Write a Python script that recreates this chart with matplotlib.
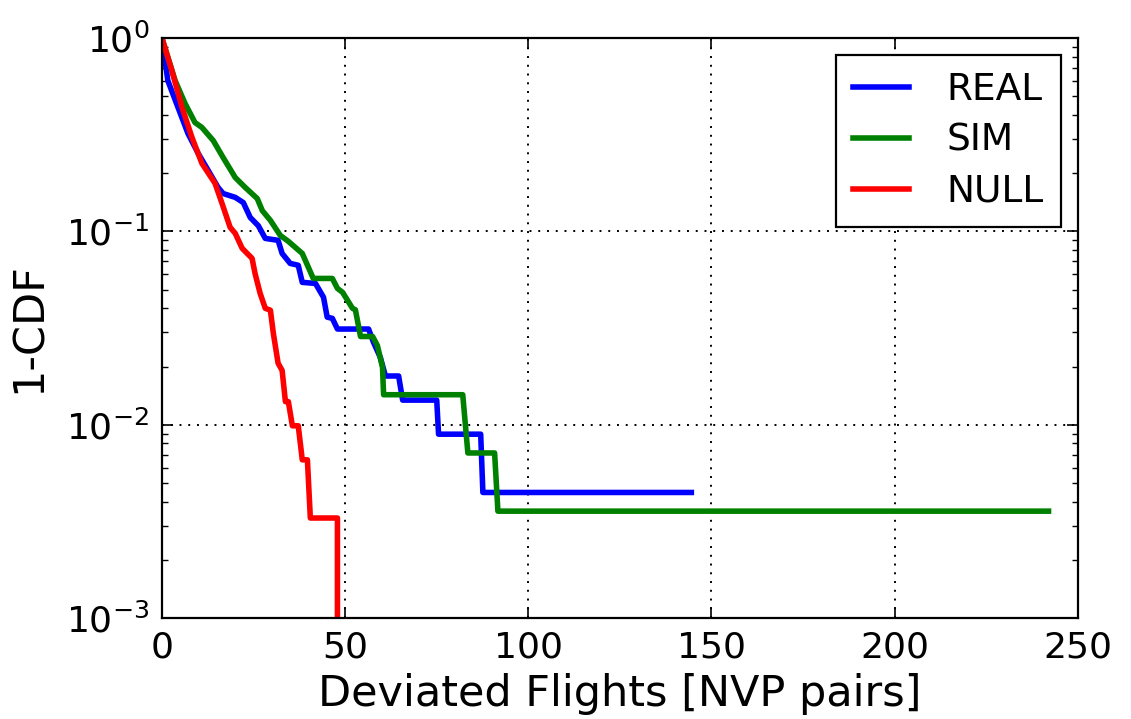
import numpy as np
import matplotlib
matplotlib.use("Agg")
import matplotlib.pyplot as plt

plt.rcParams["font.family"] = "DejaVu Sans"
plt.rcParams["mathtext.default"] = "regular"
plt.rcParams["xtick.direction"] = "in"
plt.rcParams["ytick.direction"] = "in"
plt.rcParams["xtick.top"] = True
plt.rcParams["ytick.right"] = True

# 1-CDF curves
real_x = [0, 1.6, 4.4, 7.1, 9.9, 12.6, 15.3, 16.7, 20.0, 22.2, 24.1, 26.3, 28.2,
          31.7, 32.8, 35.0, 37.2, 38.3, 41.9, 44.1, 45.1, 46.5, 47.9, 56.4, 57.7,
          59.6, 61.0, 64.6, 65.7, 75.0, 75.5, 87.0, 87.6, 144.5]
real_y = [1.0, 0.603, 0.437, 0.321, 0.253, 0.207, 0.169, 0.157, 0.150, 0.141, 0.118,
          0.107, 0.092, 0.0899, 0.0769, 0.0683, 0.0668, 0.0545, 0.0538, 0.0456,
          0.0360, 0.0355, 0.03125, 0.03125, 0.0268, 0.0223, 0.01786, 0.01786,
          0.0134, 0.0134, 0.00893, 0.00893, 0.00446, 0.00446]

sim_x = [0, 3.6, 6.3, 9.0, 10.9, 14.0, 16.7, 20.0, 22.7, 26.0, 27.4, 29.6, 32.3,
         34.5, 38.3, 41.3, 46.5, 47.9, 49.3, 52.0, 52.8, 54.2, 57.5, 58.8, 60.2,
         60.5, 82.1, 83.5, 90.8, 91.7, 242.0]
sim_y = [1.0, 0.603, 0.459, 0.366, 0.345, 0.295, 0.241, 0.190, 0.169, 0.148, 0.128,
         0.114, 0.0953, 0.0888, 0.0769, 0.0571, 0.0571, 0.0507, 0.0484, 0.0400,
         0.0393, 0.0286, 0.0286, 0.0257, 0.0198, 0.01429, 0.01429, 0.00714,
         0.00714, 0.00357, 0.00357]

null_x = [0, 2.7, 5.5, 8.2, 10.9, 14.5, 16.4, 18.6, 20.0, 21.9, 24.6, 25.4, 26.8,
          28.2, 29.6, 30.4, 31.7, 32.8, 33.7, 34.5, 35.6, 37.2, 38.3, 39.7, 40.5,
          47.9, 47.9]
null_y = [1.0, 0.679, 0.437, 0.306, 0.225, 0.177, 0.1395, 0.105, 0.0977, 0.0817,
          0.0725, 0.0607, 0.0478, 0.0400, 0.0391, 0.0297, 0.0208, 0.0191, 0.01316,
          0.01316, 0.00987, 0.00987, 0.00658, 0.00658, 0.00329, 0.00329, 0.0]

fig = plt.figure(figsize=(11.31, 7.19), dpi=100)
ax = fig.add_axes([0.1432, 0.1405, 0.8098, 0.8065])

ax.plot(real_x, real_y, '-', color='b', lw=4, label='REAL')
ax.plot(sim_x, sim_y, '-', color='g', lw=4, label='SIM')
ax.plot(null_x, null_y, '-', color='r', lw=4, label='NULL')

ax.set_yscale('log', nonpositive='clip')
ax.set_xlim(0, 250)
ax.set_ylim(1e-3, 1)
ax.set_xticks([0, 50, 100, 150, 200, 250])
ax.grid(True, which='major', color='k', linestyle=(0, (1, 3.5)), lw=1.4)

ax.tick_params(which='major', length=8, width=1.2, labelsize=26, pad=9)
ax.tick_params(which='minor', length=4, width=1.0)
for s in ax.spines.values():
    s.set_linewidth(1.6)

ax.set_xlabel("Deviated Flights [NVP pairs]", fontsize=31, labelpad=6)
ax.set_ylabel("1-CDF", fontsize=31, labelpad=12)

leg = ax.legend(loc='upper right', fontsize=27, fancybox=False, handlelength=1.5,
                handletextpad=1.0, labelspacing=0.4, borderaxespad=0.45,
                borderpad=0.45)
leg.get_frame().set_edgecolor('k')
leg.get_frame().set_linewidth(1.6)
leg.get_frame().set_alpha(1)

fig.savefig("out.png", dpi=100)
